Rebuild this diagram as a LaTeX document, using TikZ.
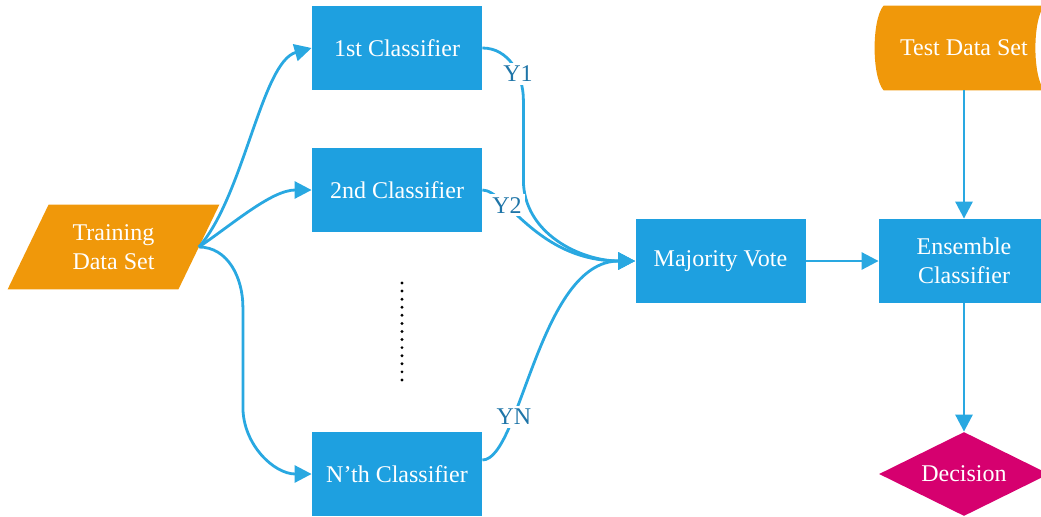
\documentclass[tikz,border=0pt]{standalone}
\usepackage{fontspec}
\setmainfont{Liberation Serif}
\usetikzlibrary{shapes.geometric, arrows.meta, backgrounds}
\definecolor{boxblue}{RGB}{30,160,224}
\definecolor{lineblue}{RGB}{41,168,225}
\definecolor{textblue}{RGB}{31,117,168}
\definecolor{dataorange}{RGB}{240,152,10}
\definecolor{decisionpink}{RGB}{214,0,111}

\begin{document}
\begin{tikzpicture}[x=0.5pt, y=0.5pt,
		every node/.style={font=\fontsize{12}{14.5}\selectfont, text=white, inner sep=0pt},
		classbox/.style={fill=boxblue, minimum width=85pt, minimum height=42pt},
		conn/.style={draw=lineblue, line width=1.4pt, -{Triangle[length=8.5pt, width=8.5pt]}},
		ylabel/.style={fill=white, text=textblue, inner sep=1.5pt}]
	\useasboundingbox (0,0) rectangle (1041,516);

	\node[minimum width=85pt, minimum height=42pt, align=center] (train) at (113.5,269) {Training\\Data Set};

	\node[classbox] (c1) at (397,468) {1st Classifier};
	\node[classbox] (c2) at (397,326) {2nd Classifier};
	\node[classbox] (cN) at (397,42) {N’th Classifier};

	\foreach \i in {0,...,12}
		\fill (402,233-\i*8.08) circle[radius=0.8pt];

	\node[classbox] (vote) at (720.5,255) {Majority Vote};
	\node[classbox, align=center] (ensemble) at (964,255) {Ensemble\\Classifier};
	\node[minimum width=80pt, minimum height=42pt] (test) at (964,468) {Test Data Set};
	\node[diamond, aspect=2, fill=decisionpink, minimum width=85pt, minimum height=42pt]
		(decision) at (964,42) {Decision};

	\begin{scope}[on background layer]
		\fill[dataorange] ([xshift=-10.25pt]train.south west) -- ([xshift=-10.25pt]train.south east)
			-- ([xshift=10.25pt]train.north east) -- ([xshift=10.25pt]train.north west) -- cycle;
		\fill[dataorange] (test.north west) -- (test.north east)
			.. controls +(-12,-14) and +(-12,14) .. (test.south east) -- (test.south west)
			.. controls +(-12,14) and +(-12,-14) .. (test.north west) -- cycle;
	\end{scope}

	% training set to the classifiers
	\draw[conn] (train.east) .. controls +(45,51) and +(-50,-14) .. (c1.west);
	\draw[conn] (train.east) .. controls +(34,23) and +(-40,0) .. (c2.west);
	\draw[conn] (train.east) to[out=0, in=90] ++(44,-60) -- ++(0,-100)
		to[out=-90, in=180] (cN.west);

	% classifiers to the vote
	\draw[conn] (c1.east) to[out=0, in=90] node[ylabel, pos=0.65] {Y1} ++(41,-52) -- ++(0,-80)
		to[out=-90, in=180] (vote.west);
	\draw[conn] (c2.east) .. controls +(23,0) and +(-98,0) .. node[ylabel, pos=0.3] {Y2} (vote.west);
	\draw[conn] ([yshift=7pt]cN.east) .. controls +(38,0) and +(-96,0) .. node[ylabel, pos=0.3] {YN} (vote.west);

	\draw[conn] (vote) -- (ensemble);
	\draw[conn] (test) -- (ensemble);
	\draw[conn] (ensemble) -- (decision);
\end{tikzpicture}
\end{document}
